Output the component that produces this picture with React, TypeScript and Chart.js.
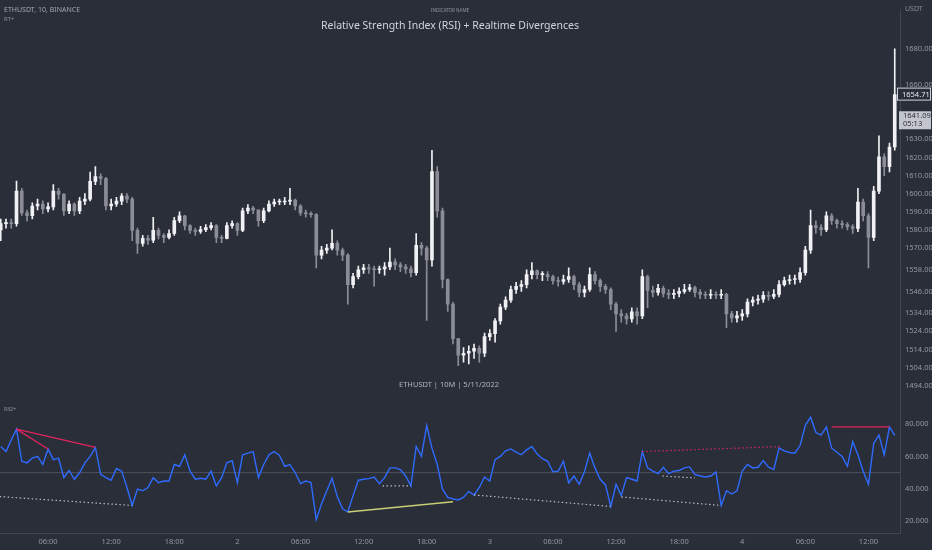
import React, { useEffect, useRef } from 'react';
import { Chart, registerables } from 'chart.js';

Chart.register(...registerables);

// ---- time axis (hours since 1 May 00:00) ----
const START_HOUR = 1.5;
const STEP_HOURS = 0.5;
const X_MIN = 1.43;
const X_MAX = 87.0;
const xTickHours = [6, 12, 18, 24, 30, 36, 42, 48, 54, 60, 66, 72, 78, 84];

// ---- price candles (30 min) ----
const firstOpen = 1580;
const closes = [
  1583.5, 1584.0, 1583.5, 1601.4, 1589.4, 1587.8, 1593.2, 1594.3, 1591.6, 1592.7,
  1601.4, 1599.7, 1590.5, 1594.3, 1590.5, 1595.9, 1597.0, 1606.8, 1609.5, 1608.4,
  1593.2, 1594.3, 1595.9, 1598.7, 1597.0, 1579.7, 1572.6, 1575.3, 1574.3, 1579.7,
  1577.0, 1575.9, 1578.0, 1585.1, 1587.8, 1582.4, 1579.7, 1579.1, 1580.2, 1581.3,
  1582.4, 1575.9, 1575.3, 1582.4, 1583.5, 1579.7, 1590.5, 1592.1, 1591.1, 1585.1,
  1590.5, 1594.3, 1595.4, 1595.4, 1595.9, 1596.5, 1593.2, 1589.4, 1588.9, 1588.4,
  1566.1, 1568.8, 1569.9, 1572.6, 1568.8, 1566.1, 1549.8, 1554.2, 1558.0, 1559.1,
  1558.5, 1558.0, 1558.5, 1559.6, 1562.3, 1560.7, 1559.6, 1558.5, 1556.4, 1571.5,
  1569.9, 1563.4, 1612.2, 1590.5, 1552.6, 1539.0, 1520.0, 1510.8, 1511.9, 1513.0,
  1514.6, 1511.9, 1521.1, 1522.7, 1529.8, 1537.4, 1541.2, 1547.1, 1548.8, 1549.8,
  1555.3, 1557.4, 1555.3, 1555.3, 1554.2, 1552.0, 1551.5, 1552.6, 1554.2, 1549.8,
  1545.5, 1547.1, 1555.3, 1552.0, 1548.8, 1547.1, 1539.0, 1533.6, 1532.5, 1530.9,
  1534.7, 1532.5, 1554.2, 1546.6, 1545.5, 1547.7, 1545.0, 1544.4, 1545.0, 1546.1,
  1547.1, 1548.2, 1545.5, 1544.4, 1543.9, 1544.4, 1543.9, 1544.4, 1533.6, 1531.4,
  1532.5, 1533.6, 1540.1, 1541.2, 1541.7, 1543.9, 1543.3, 1544.4, 1549.8, 1552.0,
  1552.6, 1552.6, 1556.4, 1568.8, 1582.4, 1581.3, 1580.2, 1587.8, 1585.1, 1583.5,
  1582.9, 1581.8, 1580.8, 1595.4, 1587.8, 1575.9, 1601.4, 1620.3, 1614.9, 1625.8,
  1654.71,
];
const highs = [
  1586, 1586, 1586, 1607, 1603, 1591, 1595, 1597, 1596, 1595,
  1605, 1603, 1600, 1596, 1595, 1598, 1600, 1612, 1615, 1611,
  1609, 1597, 1598, 1600, 1600, 1598, 1581, 1577, 1577, 1587,
  1581, 1578, 1580, 1587, 1590, 1588, 1583, 1581, 1582, 1583,
  1584, 1583, 1577, 1584, 1585, 1584, 1592, 1594, 1593, 1591,
  1592, 1596, 1597, 1597, 1598, 1603, 1597, 1594, 1591, 1590,
  1589, 1571, 1572, 1580, 1574, 1570, 1567, 1556, 1560, 1561,
  1561, 1560, 1560, 1562, 1570, 1564, 1562, 1561, 1560, 1578,
  1573, 1571, 1624, 1615, 1592, 1553, 1540, 1520, 1515, 1516,
  1517, 1516, 1523, 1525, 1531, 1539, 1543, 1549, 1551, 1552,
  1558, 1562, 1558, 1557, 1557, 1555, 1554, 1555, 1559, 1555,
  1551, 1549, 1559, 1557, 1553, 1550, 1548, 1540, 1536, 1534,
  1537, 1537, 1558, 1555, 1549, 1550, 1549, 1547, 1547, 1548,
  1550, 1550, 1549, 1547, 1546, 1547, 1546, 1547, 1545, 1535,
  1535, 1536, 1542, 1543, 1544, 1546, 1546, 1547, 1552, 1554,
  1555, 1555, 1559, 1571, 1591, 1585, 1583, 1590, 1589, 1586,
  1585, 1584, 1583, 1603, 1597, 1589, 1604, 1632, 1622, 1628,
  1680,
];
const lows = [
  1574, 1581, 1581, 1582, 1588, 1585, 1586, 1591, 1589, 1590,
  1591, 1597, 1588, 1589, 1588, 1589, 1594, 1596, 1605, 1605,
  1591, 1591, 1593, 1594, 1595, 1574, 1567, 1571, 1572, 1573,
  1575, 1573, 1575, 1577, 1584, 1580, 1578, 1577, 1578, 1579,
  1580, 1573, 1573, 1575, 1581, 1577, 1579, 1589, 1589, 1582,
  1584, 1590, 1593, 1594, 1594, 1594, 1591, 1588, 1587, 1587,
  1559, 1564, 1567, 1569, 1566, 1563, 1539, 1548, 1553, 1556,
  1556, 1549, 1556, 1555, 1558, 1558, 1557, 1556, 1554, 1555,
  1566, 1530, 1560, 1587, 1548, 1535, 1517, 1505, 1507, 1506,
  1509, 1507, 1510, 1519, 1518, 1528, 1536, 1540, 1545, 1546,
  1548, 1553, 1553, 1552, 1552, 1550, 1549, 1550, 1551, 1547,
  1543, 1543, 1546, 1550, 1546, 1545, 1536, 1524, 1529, 1528,
  1529, 1528, 1531, 1537, 1543, 1544, 1543, 1542, 1542, 1543,
  1545, 1546, 1543, 1542, 1542, 1542, 1542, 1542, 1526, 1529,
  1529, 1530, 1532, 1538, 1539, 1540, 1541, 1542, 1543, 1549,
  1550, 1550, 1551, 1555, 1567, 1578, 1577, 1579, 1583, 1581,
  1581, 1580, 1578, 1579, 1585, 1559, 1574, 1600, 1610, 1612,
  1624,
];

// ---- RSI (same timestamps) ----
const rsiValues = [
  66.1, 63.0, 70.1, 76.8, 57.0, 56.0, 59.0, 60.0, 55.0, 64.6,
  58.0, 59.0, 46.9, 51.3, 45.9, 49.9, 56.0, 60.0, 65.5, 48.9,
  46.9, 45.3, 52.5, 50.9, 40.8, 29.7, 39.8, 38.8, 40.8, 46.9,
  43.8, 44.8, 44.8, 55.0, 53.9, 61.0, 50.9, 45.9, 46.5, 45.9,
  50.9, 41.8, 46.9, 56.0, 57.4, 43.8, 61.0, 62.0, 63.0, 46.9,
  55.0, 61.0, 63.0, 60.6, 53.9, 55.0, 49.9, 43.2, 44.8, 43.8,
  21.0, 30.7, 38.8, 46.5, 35.2, 27.7, 25.7, 35.8, 45.3, 45.9,
  46.3, 47.3, 43.2, 46.9, 52.9, 52.9, 51.9, 47.9, 41.8, 66.1,
  60.0, 79.0, 65.1, 55.0, 39.8, 34.7, 33.7, 33.1, 34.7, 38.4,
  36.2, 40.8, 47.3, 44.8, 58.0, 60.0, 63.4, 64.6, 62.6, 61.0,
  64.0, 66.1, 61.4, 58.6, 57.0, 50.5, 50.9, 57.0, 43.6, 47.9,
  42.8, 50.5, 62.0, 52.9, 45.9, 42.4, 29.1, 42.8, 35.8, 46.9,
  45.9, 44.8, 63.0, 52.9, 50.9, 49.3, 53.3, 49.3, 50.9, 51.3,
  52.9, 53.5, 48.9, 47.9, 47.3, 47.9, 50.3, 29.7, 38.8, 36.8,
  38.8, 50.9, 55.0, 52.9, 53.3, 57.4, 53.3, 51.9, 65.1, 63.4,
  62.4, 62.0, 66.7, 79.2, 84.2, 74.7, 73.1, 78.2, 65.1, 62.6,
  60.0, 53.9, 69.1, 61.0, 50.9, 42.8, 68.1, 73.1, 61.0, 78.2,
  73.0,
];
const rsiMidline = 50;

// ---- divergence segments: [hourFrom, rsiFrom, hourTo, rsiTo] ----
const bearishRegular = [
  [3.0, 76.8, 6.0, 64.6],
  [3.0, 76.8, 10.5, 65.5],
  [80.5, 78.2, 86.0, 78.2],
];
const bearishHidden = [[62.5, 63.0, 75.8, 66.1]];
const bullishRegular = [[34.5, 25.7, 44.5, 32.0]];
const bullishHidden = [
  [1.4, 35.2, 14.0, 29.7],
  [37.8, 41.8, 40.5, 41.8],
  [46.5, 36.2, 59.5, 29.1],
  [60.5, 35.0, 70.0, 29.7],
  [64.4, 47.9, 67.5, 46.7],
];

// ---- axis ticks & labels ----
const priceTicks = [1494, 1504, 1514, 1524, 1534, 1546, 1558, 1570, 1580, 1590, 1600, 1610, 1620, 1630, 1660, 1680];
const rsiTicks = [20, 40, 60, 80];
const lastPrice = 1654.71;
const indicatorPrice = 1641.09;
const countdown = '05:13';

// price pane occupies the upper part, RSI pane the lower part of one plot area
const PRICE_RANGE = { min: 1412.65, max: 1701.7 };
const RSI_RANGE = { min: 12.73, max: 335.76 };

const BG = '#2a2e39';
const AXIS_TEXT = '#9598a1';
const FONT = "'Noto Sans', 'DejaVu Sans', sans-serif";

const hourLabel = (h: number) => {
  if (h % 24 === 0) return String(h / 24 + 1);
  const hh = h % 24;
  return (hh < 10 ? '0' : '') + hh + ':00';
};

const overlayPlugin = {
  id: 'overlayLabels',
  afterDraw(chart: any) {
    const y = chart.scales.y;
    const y2 = chart.scales.y2;
    const ctx = chart.ctx;
    const axisX = chart.chartArea.right;
    ctx.save();
    ctx.font = `7.5px ${FONT}`;
    ctx.textBaseline = 'middle';
    ctx.textAlign = 'left';
    // RSI axis labels
    ctx.fillStyle = AXIS_TEXT;
    rsiTicks.forEach((v) => {
      ctx.fillText(v.toFixed(3), axisX + 5, y2.getPixelForValue(v));
    });
    // indicator value box
    const iy = y.getPixelForValue(indicatorPrice);
    ctx.fillStyle = '#c3c6ce';
    ctx.fillRect(axisX - 1, iy - 8, 32, 18);
    ctx.fillStyle = '#2a2e39';
    ctx.fillText(indicatorPrice.toFixed(2), axisX + 3, iy - 3);
    ctx.fillText(countdown, axisX + 3, iy + 5);
    // last price box
    const py = y.getPixelForValue(lastPrice);
    ctx.fillStyle = BG;
    ctx.fillRect(axisX - 3, py - 7, 34, 13);
    ctx.strokeStyle = '#d1d4dc';
    ctx.lineWidth = 1;
    ctx.strokeRect(axisX - 2.5, py - 6.5, 33, 12);
    ctx.fillStyle = '#e6e8ee';
    ctx.fillText(lastPrice.toFixed(2), axisX + 2, py);
    ctx.restore();
  },
};

export default function App() {
  const ref = useRef<HTMLCanvasElement>(null);

  useEffect(() => {
    if (!ref.current) return;
    const hours = closes.map((_, i) => START_HOUR + i * STEP_HOURS);
    const opens = closes.map((_, i) => (i === 0 ? firstOpen : closes[i - 1]));
    const colors = closes.map((c, i) => (c >= opens[i] ? '#f0f1f4' : '#8a8d96'));
    const bodies = closes.map((c, i) => ({ x: hours[i], y: [opens[i], c] }));
    const wicks = closes.map((_, i) => ({ x: hours[i], y: [lows[i], highs[i]] }));
    const rsiPts = rsiValues.map((v, i) => ({ x: hours[i], y: v }));

    const seg = (list: number[][], color: string, width: number, dash: number[]) =>
      list.map((s) => ({
        type: 'line' as const,
        data: [
          { x: s[0], y: s[1] },
          { x: s[2], y: s[3] },
        ],
        yAxisID: 'y2',
        borderColor: color,
        borderWidth: width,
        borderDash: dash,
        pointRadius: 0,
        order: 0,
      }));

    const chart = new Chart(ref.current, {
      type: 'bar',
      data: {
        datasets: [
          {
            type: 'bar',
            data: wicks as any,
            yAxisID: 'y',
            backgroundColor: colors,
            barThickness: 1,
            grouped: false,
            order: 3,
          },
          {
            type: 'bar',
            data: bodies as any,
            yAxisID: 'y',
            backgroundColor: colors,
            barThickness: 3,
            minBarLength: 1,
            grouped: false,
            order: 2,
          },
          {
            type: 'line',
            data: [
              { x: X_MIN, y: rsiMidline },
              { x: X_MAX, y: rsiMidline },
            ],
            yAxisID: 'y2',
            borderColor: 'rgba(120,123,134,0.45)',
            borderWidth: 1,
            pointRadius: 0,
            order: 4,
          },
          {
            type: 'line',
            data: rsiPts,
            yAxisID: 'y2',
            borderColor: '#2f6bff',
            borderWidth: 1.4,
            pointRadius: 0,
            tension: 0,
            order: 1,
          },
          ...seg(bearishRegular, '#e0245e', 1.3, []),
          ...seg(bearishHidden, '#e0245e', 1.2, [1.5, 2.5]),
          ...seg(bullishRegular, '#c7cf73', 1.3, []),
          ...seg(bullishHidden, '#b8bbc3', 1.2, [1.5, 2.5]),
        ] as any,
      },
      options: {
        responsive: false,
        animation: false,
        events: [],
        layout: { padding: 0 },
        plugins: { legend: { display: false }, tooltip: { enabled: false } },
        scales: {
          x: {
            type: 'linear',
            min: X_MIN,
            max: X_MAX,
            offset: false,
            position: 'bottom',
            grid: { display: false, drawTicks: false, offset: false },
            border: { display: true, color: '#434651' },
            ticks: {
              color: AXIS_TEXT,
              font: { size: 7.5, family: FONT },
              padding: 4,
              maxRotation: 0,
              autoSkip: false,
              callback: (v: any) => hourLabel(Number(v)),
            },
            afterBuildTicks: (s: any) => {
              s.ticks = xTickHours.map((v) => ({ value: v }));
            },
            afterFit: (s: any) => {
              s.height = 17;
            },
          },
          y: {
            type: 'linear',
            position: 'right',
            min: PRICE_RANGE.min,
            max: PRICE_RANGE.max,
            grid: { display: false, drawTicks: false },
            border: { display: true, color: '#434651' },
            ticks: {
              color: AXIS_TEXT,
              font: { size: 7.5, family: FONT },
              padding: 5,
              autoSkip: false,
              callback: (v: any) => Number(v).toFixed(2),
            },
            afterBuildTicks: (s: any) => {
              s.ticks = priceTicks.map((v) => ({ value: v }));
            },
            afterFit: (s: any) => {
              s.width = 32;
            },
          },
          y2: {
            type: 'linear',
            display: false,
            position: 'right',
            min: RSI_RANGE.min,
            max: RSI_RANGE.max,
          },
        },
      } as any,
      plugins: [overlayPlugin],
    });
    return () => chart.destroy();
  }, []);

  const txt = (extra: React.CSSProperties): React.CSSProperties => ({
    position: 'absolute',
    fontFamily: FONT,
    whiteSpace: 'nowrap',
    lineHeight: 1,
    ...extra,
  });

  return (
    <div
      style={{
        position: 'absolute',
        left: 0,
        top: 0,
        width: 932,
        height: 550,
        background: BG,
        overflow: 'hidden',
      }}
    >
      <canvas ref={ref} width={932} height={550} style={{ display: 'block' }} />
      <div style={txt({ left: 4, top: 6, fontSize: 7, color: '#a3a6af' })}>ETHUSDT, 10, BINANCE</div>
      <div style={txt({ left: 4, top: 16, fontSize: 6, color: '#8a8d96' })}>RT+</div>
      <div style={txt({ left: 0, width: 900, textAlign: 'center', top: 8, fontSize: 4.5, color: '#9598a1' })}>
        INDICATOR NAME
      </div>
      <div style={txt({ left: 0, width: 900, textAlign: 'center', top: 20, fontSize: 10.5, color: '#d1d4dc' })}>
        Relative Strength Index (RSI) + Realtime Divergences
      </div>
      <div style={txt({ left: 905, top: 5, fontSize: 7, color: '#8a8d96' })}>USDT</div>
      <div style={txt({ left: 0, width: 898, textAlign: 'center', top: 381, fontSize: 7.5, color: '#b2b5be' })}>
        ETHUSDT | 10M | 5/11/2022
      </div>
      <div style={txt({ left: 4, top: 406, fontSize: 6, color: '#8a8d96' })}>RSI+</div>
    </div>
  );
}
